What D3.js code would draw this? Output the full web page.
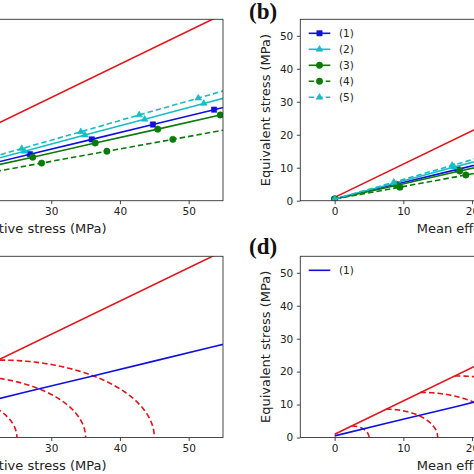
<!DOCTYPE html>
<html><head><meta charset="utf-8">
<script src="https://cdn.jsdelivr.net/npm/d3@7"></script>
<style>html,body{margin:0;padding:0;background:#fff;overflow:hidden}svg{display:block}</style>
</head><body>
<script>
// ---------------- data ----------------
const xTicks = [0, 10, 20, 30, 40, 50];
const yTicks = [0, 10, 20, 30, 40, 50];
const xDomain = [-5, 55];
const yDomain = [0, 55];
const seriesNames = ["(1)", "(2)", "(3)", "(4)", "(5)"];
// mean effective stress / equivalent stress at marker points
const s1x = [0, 8.9, 17.9, 26.9, 35.9, 44.8, 53.7, 62.6];
const s1y = [0.5, 5.0, 9.5, 14.1, 18.6, 23.1, 27.6, 32.1];
const s2x = [0, 8.7, 17.4, 26.1, 34.9, 43.6, 52.2, 60.9];
const s2y = [0.5, 5.3, 10.2, 15.0, 19.9, 24.7, 29.5, 34.3];
const s3x = [0, 9.1, 18.2, 27.3, 36.4, 45.5, 54.6, 63.7];
const s3y = [0.5, 4.7, 9.0, 13.2, 17.5, 21.7, 26.0, 30.2];
const s4x = [0, 9.5, 19.1, 28.6, 38.1, 47.7, 57.2];
const s4y = [0.5, 4.1, 7.8, 11.4, 15.0, 18.6, 22.2];
const s5x = [0, 8.6, 17.1, 25.7, 34.3, 42.8, 51.4, 60.0];
const s5y = [0.5, 5.6, 10.7, 15.8, 20.9, 26.0, 31.1, 36.3];
// failure (critical state) line
const failX = [0, 60];
const failY = [1.0, 61.6];
// yield surfaces: preconsolidation pressures and peak heights
const yieldP0 = [5, 15, 25, 35, 45];
const yieldPeak = [3.5, 8.6, 13.7, 18.7, 23.5];

const zip = (xs, ys) => xs.map((x, i) => [x, ys[i]]);
const series = [
  {name: seriesNames[0], pts: zip(s1x, s1y), color: "#1010e0", marker: "square", dash: null},
  {name: seriesNames[1], pts: zip(s2x, s2y), color: "#17bcc4", marker: "triangle", dash: null},
  {name: seriesNames[2], pts: zip(s3x, s3y), color: "#0a7a0a", marker: "circle", dash: null},
  {name: seriesNames[3], pts: zip(s4x, s4y), color: "#0a7a0a", marker: "circle", dash: "5.5,3"},
  {name: seriesNames[4], pts: zip(s5x, s5y), color: "#17bcc4", marker: "triangle", dash: "5.5,3"}
];
const RED = "#e0161c";
const BLUE = "#1010e0";

// ---------------- layout ----------------
const W = 474, H = 474;
const svg = d3.select("body").append("svg").attr("width", W).attr("height", H);
const FONT = "DejaVu Sans, sans-serif";

const panels = [
  {id: "a", x0: -189.2, x1: 223, y0: 200.7, y1: 19.3, type: "lines"},
  {id: "b", x0: 300.3, x1: 712.5, y0: 200.7, y1: 19.3, type: "lines", legend: true, label: "(b)", labelY: 18.5},
  {id: "c", x0: -189.2, x1: 223, y0: 437.5, y1: 256.3, type: "yield"},
  {id: "d", x0: 300.3, x1: 712.5, y0: 437.5, y1: 256.3, type: "yield", legend: true, label: "(d)", labelY: 253.5}
];

function markerPath(type) {
  if (type === "square") return d3.symbol(d3.symbolSquare, 28)();
  if (type === "triangle") return d3.symbol(d3.symbolTriangle, 19)();
  return d3.symbol(d3.symbolCircle, 32)();
}

panels.forEach(p => {
  const x = d3.scaleLinear().domain(xDomain).range([p.x0, p.x1]);
  const y = d3.scaleLinear().domain(yDomain).range([p.y0, p.y1]);
  const g = svg.append("g");
  const clipId = "clip-" + p.id;
  g.append("clipPath").attr("id", clipId).append("rect")
    .attr("x", p.x0).attr("y", p.y1).attr("width", p.x1 - p.x0).attr("height", p.y0 - p.y1);
  const plot = g.append("g").attr("clip-path", `url(#${clipId})`);
  const line = d3.line().x(d => x(d[0])).y(d => y(d[1]));

  // failure line
  plot.append("path").datum(zip(failX, failY)).attr("d", line)
    .attr("fill", "none").attr("stroke", RED).attr("stroke-width", 1.6);

  if (p.type === "lines") {
    series.forEach(s => {
      plot.append("path").datum(s.pts).attr("d", line)
        .attr("fill", "none").attr("stroke", s.color).attr("stroke-width", 1.6)
        .attr("stroke-dasharray", s.dash);
      plot.selectAll(null).data(s.pts).enter().append("path")
        .attr("d", markerPath(s.marker))
        .attr("transform", d => `translate(${x(d[0])},${y(d[1])})`)
        .attr("fill", s.color).attr("stroke", s.color).attr("stroke-width", 0.6);
    });
  } else {
    yieldP0.forEach((p0, i) => {
      const h = yieldPeak[i];
      const a = p0 / 2;
      const pts = d3.range(0, 91).map(k => {
        const t = (k / 90) * Math.PI / 2;
        return [a + a * Math.sin(t), h * Math.cos(t)];
      });
      plot.append("path").datum(pts).attr("d", line)
        .attr("fill", "none").attr("stroke", RED).attr("stroke-width", 1.6)
        .attr("stroke-dasharray", "5.5,3");
    });
    plot.append("path").datum(series[0].pts).attr("d", line)
      .attr("fill", "none").attr("stroke", BLUE).attr("stroke-width", 1.6);
  }

  // axes
  const xAxis = d3.axisBottom(x).tickValues(xTicks).tickSize(3.5).tickPadding(3.5);
  const yAxis = d3.axisLeft(y).tickValues(yTicks).tickSize(3.5).tickPadding(3.5);
  const gx = g.append("g").attr("transform", `translate(0,${p.y0})`).call(xAxis);
  const gy = g.append("g").attr("transform", `translate(${p.x0},0)`).call(yAxis);
  [gx, gy].forEach(ax => {
    ax.select(".domain").remove();
    ax.selectAll("line").attr("stroke", "#333").attr("stroke-width", 0.9);
    ax.selectAll("text").attr("fill", "#222").style("font-family", FONT).style("font-size", "10.5px");
  });
  // frame
  g.append("rect").attr("x", p.x0).attr("y", p.y1).attr("width", p.x1 - p.x0).attr("height", p.y0 - p.y1)
    .attr("fill", "none").attr("stroke", "#333").attr("stroke-width", 0.9);

  // axis labels
  g.append("text").attr("x", (p.x0 + p.x1) / 2).attr("y", p.y0 + 32)
    .attr("text-anchor", "middle").style("font-family", FONT).style("font-size", "13px").attr("fill", "#222")
    .text("Mean effective stress (MPa)");
  g.append("text").attr("transform", `translate(${p.x0 - 30.5},${(p.y0 + p.y1) / 2}) rotate(-90)`)
    .attr("text-anchor", "middle").style("font-family", FONT).style("font-size", "13px").attr("fill", "#222")
    .text("Equivalent stress (MPa)");

  if (p.label) {
    svg.append("text").attr("x", 249).attr("y", p.labelY)
      .style("font-family", "Liberation Serif, serif").style("font-weight", "bold").style("font-size", "23px")
      .attr("fill", "#111").text(p.label);
  }

  if (p.legend) {
    const lg = g.append("g");
    const items = p.type === "lines" ? series : [{name: seriesNames[0], color: BLUE, marker: null, dash: null}];
    items.forEach((s, i) => {
      const yy = p.y1 + 14 + i * 16;
      lg.append("line").attr("x1", 308.7).attr("x2", 330.3).attr("y1", yy).attr("y2", yy)
        .attr("stroke", s.color).attr("stroke-width", 1.6).attr("stroke-dasharray", s.dash);
      if (s.marker) {
        lg.append("path").attr("d", markerPath(s.marker)).attr("transform", `translate(319.5,${yy})`)
          .attr("fill", s.color).attr("stroke", s.color).attr("stroke-width", 0.6);
      }
      lg.append("text").attr("x", 339).attr("y", yy + 3.8)
        .style("font-family", FONT).style("font-size", "10.5px").attr("fill", "#222").text(s.name);
    });
  }
});
</script>
</body></html>
